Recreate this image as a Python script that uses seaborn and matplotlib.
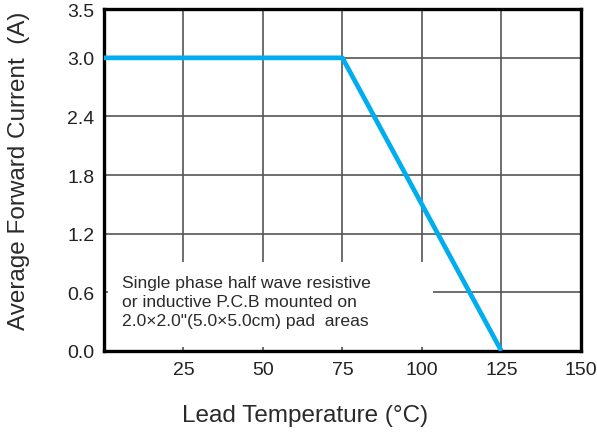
import matplotlib
matplotlib.use("Agg")
import matplotlib.pyplot as plt
import seaborn as sns
import pandas as pd
from matplotlib.patches import Rectangle

temperature = [0, 75, 125]
current = [3.0, 3.0, 0.0]
x_ticks = [25, 50, 75, 100, 125, 150]
y_ticks = [0.0, 0.6, 1.2, 1.8, 2.4, 3.0, 3.5]
note = "Single phase half wave resistive\nor inductive P.C.B mounted on\n2.0\u00d72.0\"(5.0\u00d75.0cm) pad  areas"

sns.set_style("white")
plt.rcParams['font.family'] = ['Liberation Sans', 'DejaVu Sans']

fig = plt.figure(figsize=(5.97, 4.35), dpi=100)
ax = fig.add_axes([0.174, 0.191, 0.799, 0.786])

df = pd.DataFrame({"t": temperature, "i": current})
sns.lineplot(data=df, x="t", y="i", ax=ax, color="#00AEEF", linewidth=3.4,
             zorder=3, solid_capstyle="butt")

ax.set_xlim(0, 150)
ax.set_ylim(0, 3.5)
ax.set_xticks(x_ticks)
ax.set_yticks(y_ticks)
ax.set_xticklabels([str(v) for v in x_ticks])
ax.set_yticklabels([f"{v:.1f}" for v in y_ticks])
ax.set_axisbelow(True)
ax.grid(True, color="#555555", linewidth=1.2)
ax.tick_params(direction="in", length=3, width=1.2, color="#555555",
               labelsize=14, labelcolor="#222222", pad=7)
for s in ax.spines.values():
    s.set_linewidth(2.4)
    s.set_color("black")

ax.add_patch(Rectangle((1.4, 0.045), 102.2, 0.87, facecolor="white",
                       edgecolor="none", zorder=1))
ax.text(5.6, 0.775, note, fontsize=12.6, color="#2a2a2a", va="top", ha="left",
        linespacing=1.33, zorder=2)

ax.set_xlabel("Lead Temperature (\u00b0C)", fontsize=17.5, color="#2a2a2a")
ax.set_ylabel("Average Forward Current  (A)", fontsize=17.5, color="#2a2a2a")
ax.xaxis.set_label_coords(0.421, -0.155)
ax.yaxis.set_label_coords(-0.155, 0.53)

fig.savefig("out.png", dpi=100)
